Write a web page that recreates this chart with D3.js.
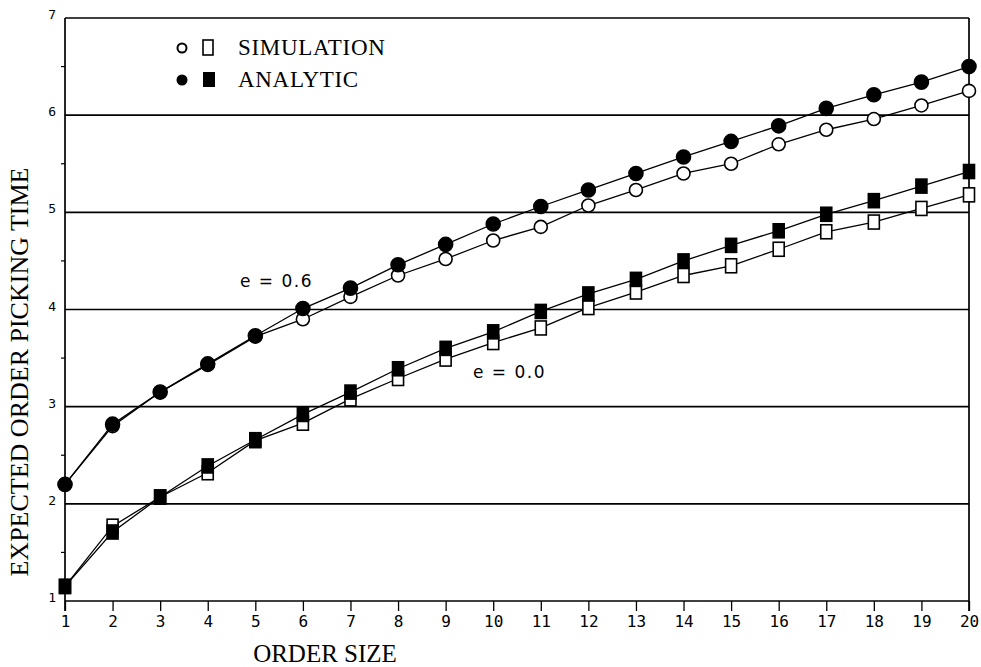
<!DOCTYPE html>
<meta charset="utf-8">
<script src="https://d3js.org/d3.v7.min.js"></script>
<style>
  body { margin: 0; background: #fff; }
  text { fill: #000; }
</style>
<div id="chart"></div>
<script>

// order sizes along the x axis
const orderSize = d3.range(1, 21);

// e = 0.6 curves
const upperAnalytic = [2.2, 2.82, 3.15, 3.44, 3.73, 4.01, 4.22, 4.46, 4.67, 4.88, 5.06, 5.23, 5.40, 5.57, 5.73, 5.89, 6.07, 6.21, 6.34, 6.5];
const upperSim      = [2.2, 2.8, 3.15, 3.43, 3.72, 3.9, 4.13, 4.35, 4.52, 4.71, 4.85, 5.07, 5.23, 5.40, 5.50, 5.70, 5.85, 5.96, 6.1, 6.25];

// e = 0.0 curves
const lowerAnalytic = [1.15, 1.71, 2.07, 2.39, 2.66, 2.92, 3.15, 3.39, 3.6, 3.77, 3.98, 4.16, 4.31, 4.5, 4.66, 4.81, 4.98, 5.12, 5.27, 5.42];
const lowerSim      = [1.15, 1.77, 2.07, 2.32, 2.65, 2.83, 3.08, 3.29, 3.49, 3.66, 3.81, 4.02, 4.18, 4.35, 4.45, 4.62, 4.8, 4.9, 5.04, 5.18];

const yTicks = [1, 2, 3, 4, 5, 6, 7];
const yMinor = [1.5, 2.5, 3.5, 4.5, 5.5, 6.5];

const width = 981, height = 667;
const svg = d3.select("#chart").append("svg")
    .attr("width", width)
    .attr("height", height);

const x = d3.scaleLinear().domain([1, 20]).range([65, 969]);
const y = d3.scaleLinear().domain([1, 7]).range([601, 18]);

// horizontal grid lines
svg.append("g")
  .selectAll("line")
  .data(yTicks)
  .join("line")
    .attr("x1", x(1)).attr("x2", x(20))
    .attr("y1", d => y(d)).attr("y2", d => y(d))
    .attr("stroke", "#000").attr("stroke-width", 1.7);

// side frame
svg.append("line").attr("x1", x(1)).attr("x2", x(1)).attr("y1", y(7)).attr("y2", y(1) + 10)
    .attr("stroke", "#000").attr("stroke-width", 1.7);
svg.append("line").attr("x1", x(20)).attr("x2", x(20)).attr("y1", y(7)).attr("y2", y(1) + 10)
    .attr("stroke", "#000").attr("stroke-width", 1.7);

// small half-unit ticks on the left axis
svg.append("g")
  .selectAll("line")
  .data(yMinor)
  .join("line")
    .attr("x1", x(1) - 4).attr("x2", x(1))
    .attr("y1", d => y(d)).attr("y2", d => y(d))
    .attr("stroke", "#000").attr("stroke-width", 1.2);

// x axis
const xAxis = svg.append("g")
    .attr("transform", `translate(0, ${y(1)})`)
    .call(d3.axisBottom(x).tickValues(orderSize).tickSize(10).tickSizeOuter(0).tickFormat(d3.format("d")));
xAxis.select(".domain").remove();
xAxis.selectAll("line").attr("stroke-width", 1.3);
xAxis.selectAll("text")
    .attr("font-family", "DejaVu Sans Mono")
    .attr("font-size", 16)
    .attr("y", 14)
    .attr("dy", "0.75em");

// y tick labels, sitting just on each grid line
svg.append("g")
  .selectAll("text")
  .data(yTicks)
  .join("text")
    .attr("x", x(1) - 9)
    .attr("y", d => y(d) + 1)
    .attr("text-anchor", "end")
    .attr("font-family", "DejaVu Sans Mono")
    .attr("font-size", 13)
    .text(d => d);

const series = [
  {vals: upperSim, shape: "circle", filled: false},
  {vals: lowerSim, shape: "square", filled: false},
  {vals: upperAnalytic, shape: "circle", filled: true},
  {vals: lowerAnalytic, shape: "square", filled: true}
];

const line = d3.line().x((d, i) => x(orderSize[i])).y(d => y(d));

series.forEach(s => {
  svg.append("path")
      .datum(s.vals)
      .attr("d", line)
      .attr("fill", "none")
      .attr("stroke", "#000")
      .attr("stroke-width", 1.3);
});

series.forEach(s => {
  const g = svg.append("g");
  if (s.shape === "circle") {
    g.selectAll("circle").data(s.vals).join("circle")
        .attr("cx", (d, i) => x(orderSize[i]))
        .attr("cy", d => y(d))
        .attr("r", s.filled ? 7 : 6.5)
        .attr("fill", s.filled ? "#000" : "#fff")
        .attr("stroke", "#000").attr("stroke-width", 1.6);
  } else {
    g.selectAll("rect").data(s.vals).join("rect")
        .attr("x", (d, i) => x(orderSize[i]) - 5.5)
        .attr("y", d => y(d) - 7)
        .attr("width", 11).attr("height", 14)
        .attr("fill", s.filled ? "#000" : "#fff")
        .attr("stroke", "#000").attr("stroke-width", 1.6);
  }
});

// legend
const legend = svg.append("g").attr("font-family", "Liberation Serif").attr("font-size", 23).attr("letter-spacing", 0.7);
legend.append("circle").attr("cx", 182).attr("cy", 48).attr("r", 4.5)
    .attr("fill", "#fff").attr("stroke", "#000").attr("stroke-width", 2);
legend.append("rect").attr("x", 203).attr("y", 40).attr("width", 10).attr("height", 15)
    .attr("fill", "#fff").attr("stroke", "#000").attr("stroke-width", 1.6);
legend.append("text").attr("x", 238).attr("y", 55).text("SIMULATION");
legend.append("circle").attr("cx", 182).attr("cy", 80).attr("r", 5.5)
    .attr("fill", "#000");
legend.append("rect").attr("x", 203).attr("y", 72).attr("width", 12).attr("height", 15)
    .attr("fill", "#000");
legend.append("text").attr("x", 238).attr("y", 87).text("ANALYTIC");

// curve labels
svg.append("text").attr("x", 240).attr("y", 287)
    .attr("font-family", "DejaVu Sans").attr("font-size", 17).attr("letter-spacing", 1.5)
    .text("e = 0.6");
svg.append("text").attr("x", 473).attr("y", 378)
    .attr("font-family", "DejaVu Sans").attr("font-size", 17).attr("letter-spacing", 1.5)
    .text("e = 0.0");

// axis titles
svg.append("text")
    .attr("x", 325).attr("y", 662)
    .attr("text-anchor", "middle")
    .attr("font-family", "Liberation Serif").attr("font-size", 25)
    .text("ORDER SIZE");
svg.append("text")
    .attr("transform", `translate(28, ${372}) rotate(-90)`)
    .attr("text-anchor", "middle")
    .attr("font-family", "Liberation Serif").attr("font-size", 26)
    .text("EXPECTED ORDER PICKING TIME");

</script>
